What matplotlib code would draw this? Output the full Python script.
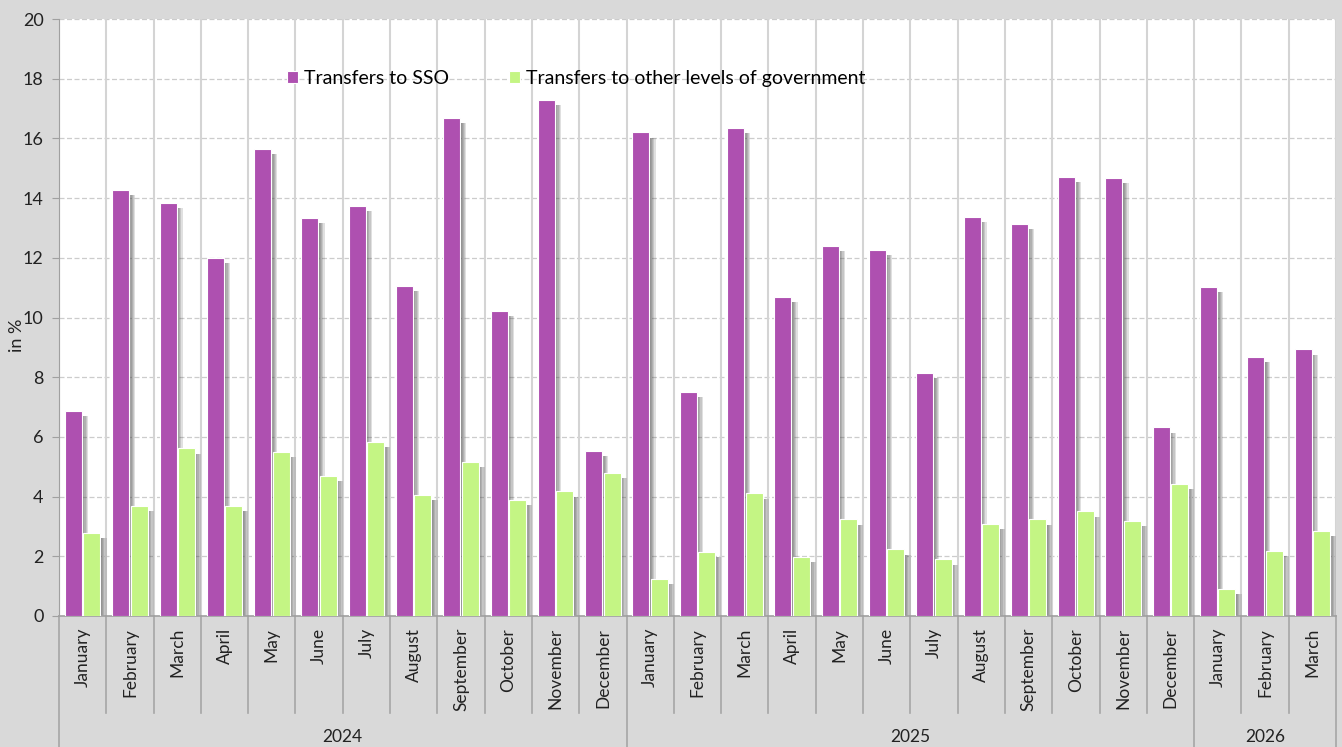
import numpy as np
import matplotlib
matplotlib.use("Agg")
from matplotlib import pyplot as plt

plt.rcParams["font.family"] = ["Lato", "DejaVu Sans"]

months = ["January", "February", "March", "April", "May", "June", "July",
          "August", "September", "October", "November", "December",
          "January", "February", "March", "April", "May", "June", "July",
          "August", "September", "October", "November", "December",
          "January", "February", "March"]
years = ["2024", "2025", "2026"]
year_counts = [12, 12, 3]

sso = [6.87, 14.27, 13.84, 11.99, 15.65, 13.33, 13.74, 11.06, 16.68, 10.22,
       17.29, 5.54, 16.21, 7.50, 16.35, 10.69, 12.40, 12.26, 8.14, 13.37,
       13.13, 14.71, 14.67, 6.32, 11.02, 8.68, 8.94]
other_gov = [2.79, 3.70, 5.62, 3.70, 5.49, 4.69, 5.83, 4.06, 5.16, 3.89,
             4.18, 4.80, 1.25, 2.14, 4.11, 1.99, 3.24, 2.23, 1.90, 3.08,
             3.24, 3.51, 3.19, 4.42, 0.92, 2.19, 2.86]

purple = "#ae50b0"
green = "#c4f584"
bg = "#d9d9d9"

fig = plt.figure(figsize=(13.42, 7.47), dpi=100, facecolor=bg)
ax = fig.add_axes([59 / 1342, 1 - 616 / 747, (1336 - 59) / 1342, 597 / 747])
ax.set_facecolor("white")

x = np.arange(len(months))
w = 0.36
gap = 0.03
xp = x - w / 2 - gap / 2
xg = x + w / 2 + gap / 2

# soft shadow on the right of every bar
for k in range(1, 6):
    off = 0.026 * k
    for xs, vals in ((xp, sso), (xg, other_gov)):
        ax.bar(xs + off, np.array(vals) - 0.18, width=w, bottom=0,
               color="#404040", alpha=0.16, linewidth=0, zorder=2)

ax.bar(xp, sso, width=w, color=purple, edgecolor="white", linewidth=0.8,
       zorder=3, label="Transfers to SSO")
ax.bar(xg, other_gov, width=w, color=green, edgecolor="white", linewidth=0.8,
       zorder=3, label="Transfers to other levels of government")

ax.set_xlim(-0.5, len(months) - 0.5)
ax.set_ylim(0, 20)
ax.set_yticks(range(0, 21, 2))
ax.tick_params(axis="y", labelsize=13, colors="#222222", length=5,
               color="#a0a0a0", pad=6)
fig.text(17 / 1342, 1 - 335 / 747, "in %", rotation=90, ha="center",
         va="center", fontsize=13, color="#222222")

# gridlines
for v in range(2, 21, 2):
    ax.axhline(v, color="#cccccc", linewidth=0.9, linestyle=(0, (4, 2)), zorder=1)
for b in np.arange(-0.5, len(months), 1.0):
    ax.axvline(b, color="#d4d4d4", linewidth=1.5, zorder=1)

for s in ("top", "right"):
    ax.spines[s].set_visible(False)
ax.spines["left"].set_color("#a0a0a0")
ax.spines["bottom"].set_color("#a0a0a0")
ax.spines["bottom"].set_linewidth(1.2)

# multi-level category axis
ax.set_xticks([])
trans = ax.get_xaxis_transform()
for i, m in enumerate(months):
    ax.text(i, -0.02, m, rotation=90, ha="center", va="top", fontsize=12.5,
            color="#222222", transform=trans)

month_bottom = -97 / 597
year_bottom = -131 / 597
year_edges = np.concatenate([[0], np.cumsum(year_counts)]) - 0.5
for b in np.arange(-0.5, len(months), 1.0):
    yb = year_bottom if b in year_edges else month_bottom
    ax.plot([b, b], [0, yb], color="#a6a6a6", linewidth=1.2, transform=trans,
            clip_on=False)
for yr, lo, hi in zip(years, year_edges[:-1], year_edges[1:]):
    ax.text((lo + hi) / 2, -121 / 597, yr, ha="center", va="center",
            fontsize=12.5, color="#222222", transform=trans)

leg = ax.legend(loc="center", bbox_to_anchor=(0.405, 0.90), ncol=2,
                frameon=False, fontsize=14, handlelength=0.55, handleheight=0.55,
                handletextpad=0.3, columnspacing=3.1)

fig.savefig("out.png", dpi=100, facecolor=bg)
